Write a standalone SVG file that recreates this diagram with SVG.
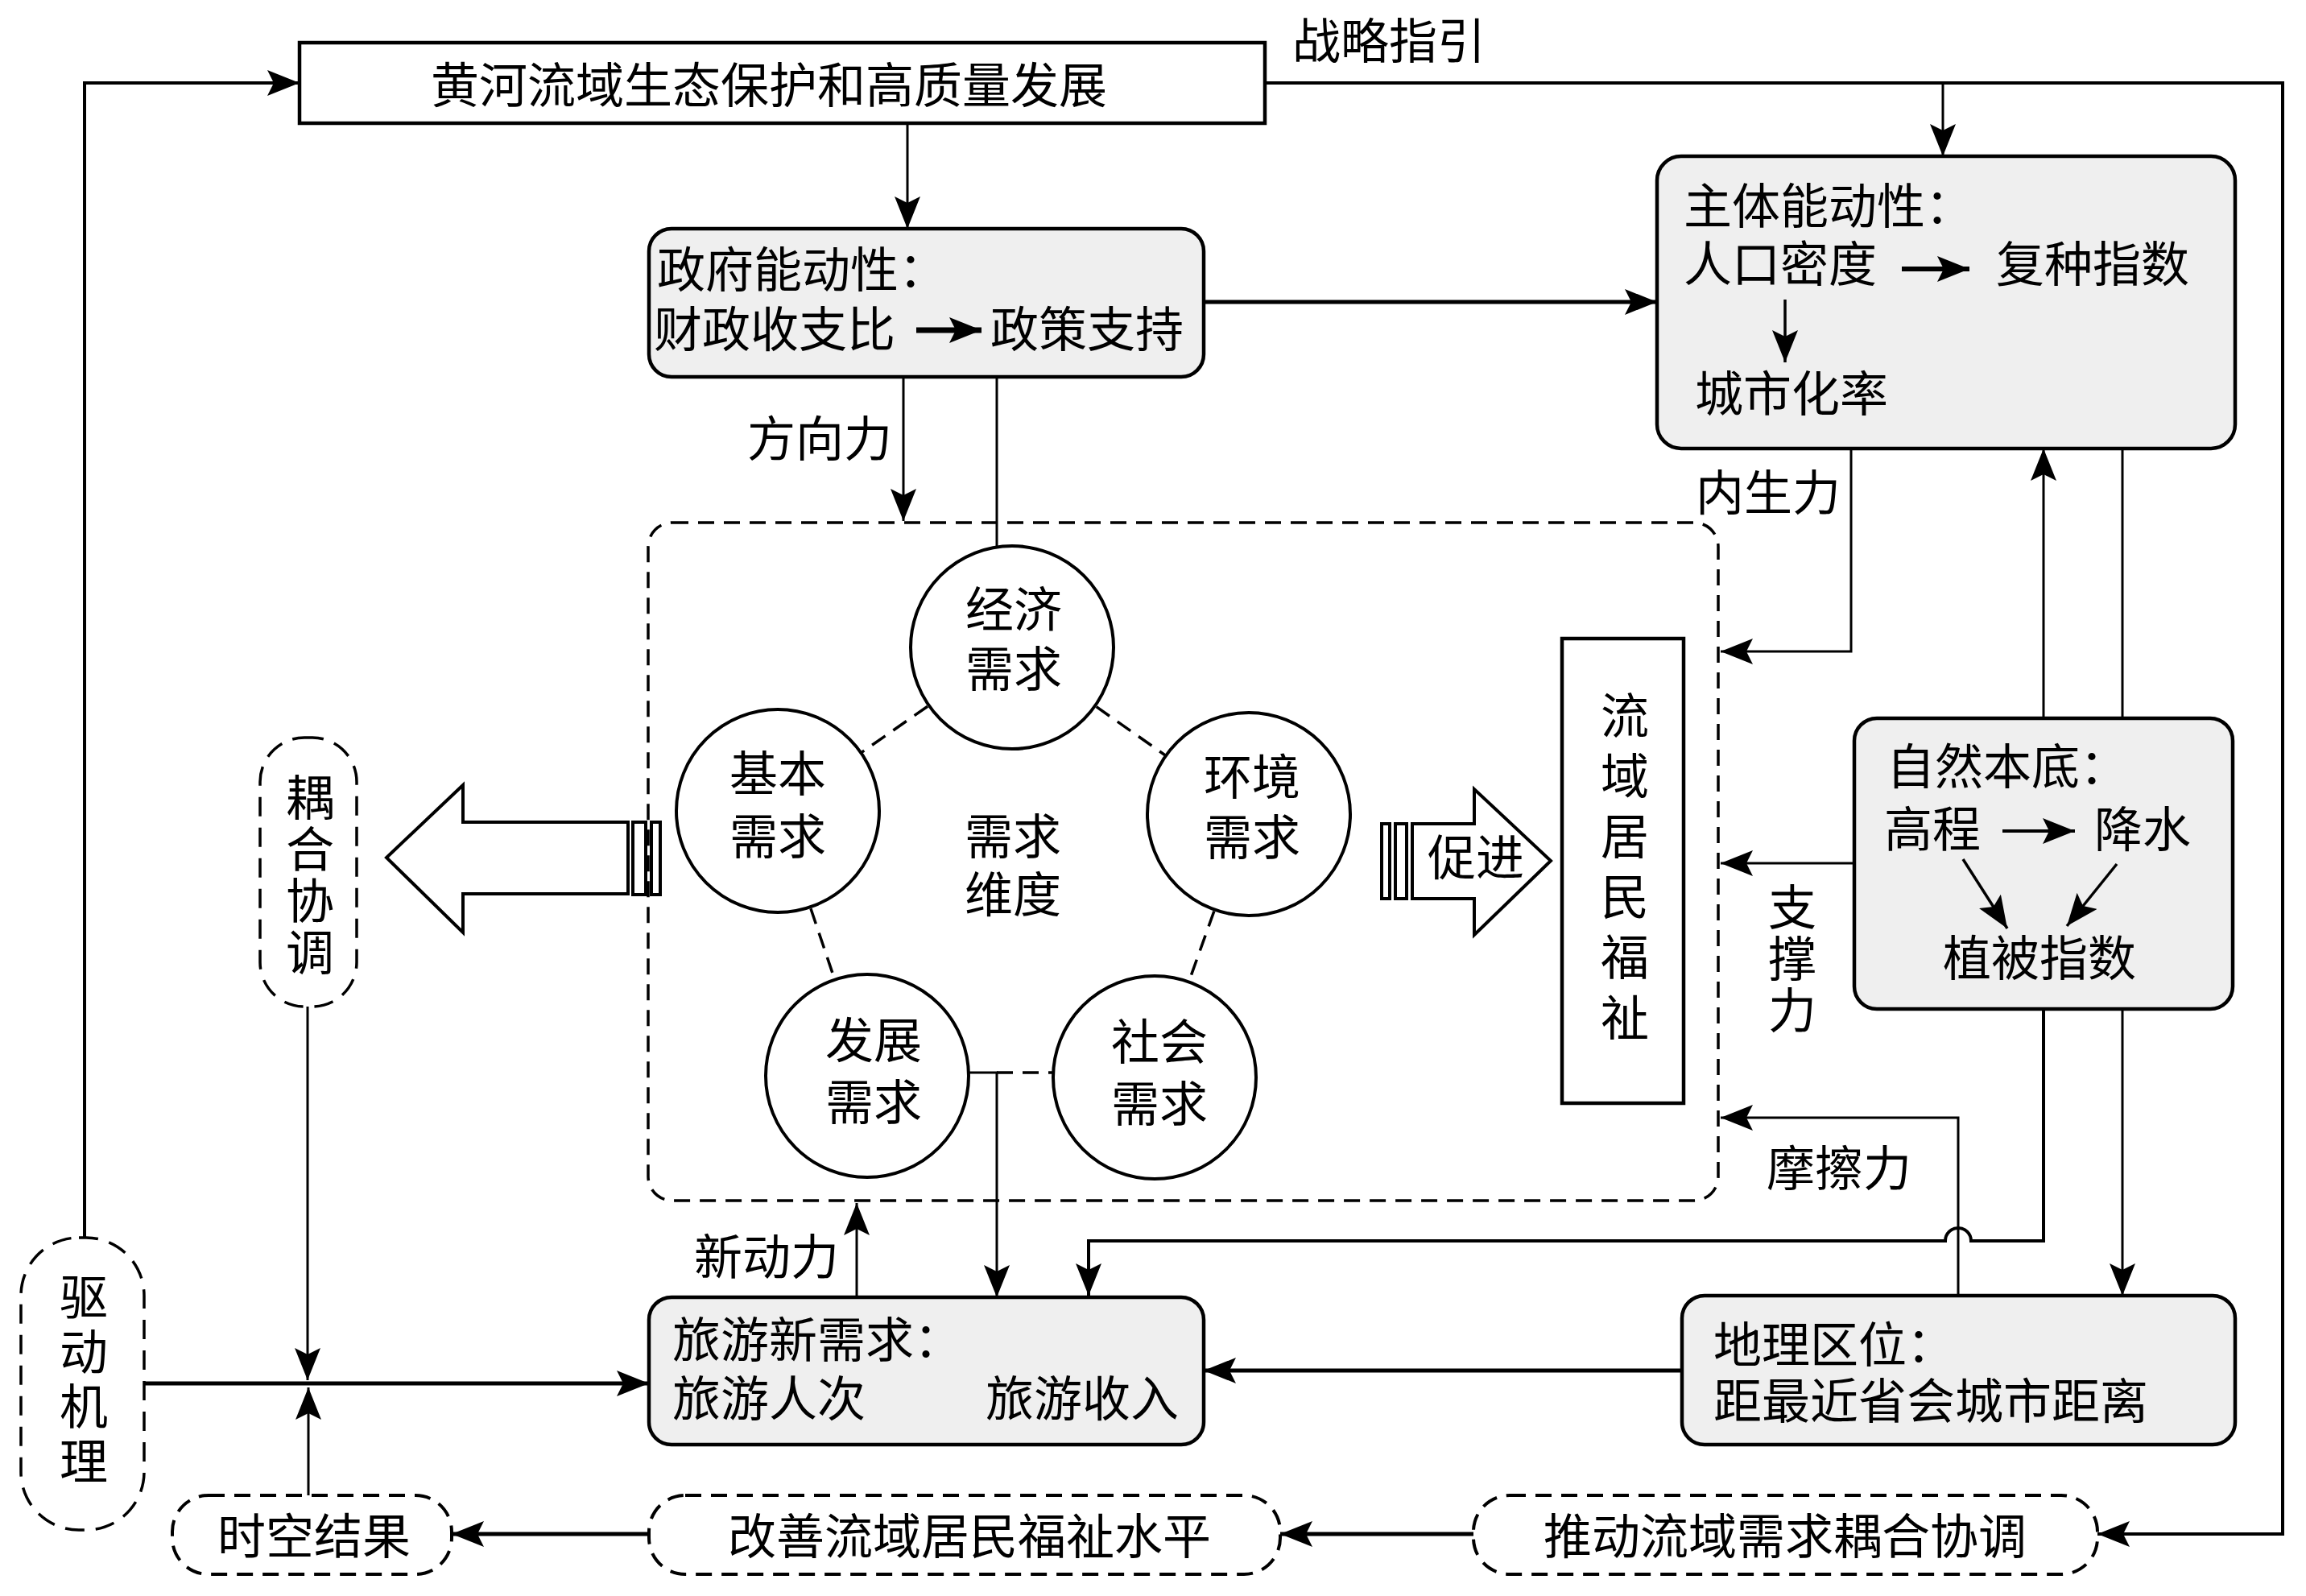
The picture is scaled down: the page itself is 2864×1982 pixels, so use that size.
<svg xmlns="http://www.w3.org/2000/svg" width="2864" height="1982" viewBox="0 0 2864 1982">
<style>
text{font-family:"Liberation Sans","Noto Sans CJK SC",sans-serif;font-size:60px;fill:#000;dominant-baseline:central}
.c{text-anchor:middle}
.s{text-anchor:start}
.v{writing-mode:vertical-rl;text-anchor:middle}
.ln{fill:none;stroke:#000;stroke-width:4}
.thin{fill:none;stroke:#000;stroke-width:3}
.thick{fill:none;stroke:#000;stroke-width:5}
.box{fill:#efefef;stroke:#000;stroke-width:4.5}
.wbox{fill:#fff;stroke:#000;stroke-width:4.5}
.dbox{fill:#fff;stroke:#000;stroke-width:4;stroke-dasharray:20 12}
.dpill{fill:#fff;stroke:#000;stroke-width:3.5;stroke-dasharray:24 14}
.circ{fill:#fff;stroke:#000;stroke-width:4}
.dl{fill:none;stroke:#000;stroke-width:3.5;stroke-dasharray:20 12}
.hollow{fill:#fff;stroke:#000;stroke-width:4}
</style>
<defs>
<marker id="ah" markerUnits="userSpaceOnUse" markerWidth="40" markerHeight="32" refX="40" refY="16" orient="auto">
<path d="M0,0 L40,16 L0,32 L8,16 Z" fill="#000"/>
</marker>
</defs>
<rect width="2864" height="1982" fill="#fff"/>

<g id="connectors">
<path class="ln" d="M105,1537 L105,103 L372,103" marker-end="url(#ah)"/>
<path class="ln" d="M1571,103 L2835,103 L2835,1905 L2605,1905" marker-end="url(#ah)"/>
<path class="thin" d="M2413,103 L2413,194" marker-end="url(#ah)"/>
<path class="thin" d="M1127,153 L1127,284" marker-end="url(#ah)"/>
<path class="thick" d="M1495,375 L2058,375" marker-end="url(#ah)"/>
<path class="thin" d="M1122,468 L1122,647" marker-end="url(#ah)"/>
<path class="thin" d="M1238,468 L1238,679"/>
<path class="thin" d="M2299,557 L2299,809 L2137,809" marker-end="url(#ah)"/>
<path class="thin" d="M2538,892 L2538,557" marker-end="url(#ah)"/>
<path class="thin" d="M2636,557 L2636,1609" marker-end="url(#ah)"/>
<path class="thin" d="M2303,1072 L2137,1072" marker-end="url(#ah)"/>
<path class="thin" d="M2432,1609 L2432,1388 L2137,1388" marker-end="url(#ah)"/>
<path class="ln" d="M2538,1253 L2538,1541 L2448,1541 A16,16 0 0 0 2416,1541 L1352,1541 L1352,1609" marker-end="url(#ah)"/>
<path class="thick" d="M2089,1702 L1495,1702" marker-end="url(#ah)"/>
<path class="thick" d="M179,1718 L806,1718" marker-end="url(#ah)"/>
<path class="thin" d="M382,1250 L382,1714" marker-end="url(#ah)"/>
<path class="thin" d="M383,1857 L383,1723" marker-end="url(#ah)"/>
<path class="thin" d="M1064,1611 L1064,1494" marker-end="url(#ah)"/>
<path class="thin" d="M1204,1332 L1238,1332 L1238,1611" marker-end="url(#ah)"/>
<path class="thick" d="M1830,1905 L1590,1905" marker-end="url(#ah)"/>
<path class="thick" d="M806,1905 L561,1905" marker-end="url(#ah)"/>
<text class="s" x="1605" y="52">战略指引</text>
<text class="s" x="928" y="546">方向力</text>
<text class="s" x="2106" y="613">内生力</text>
<text class="v" x="2220" y="1192" letter-spacing="4">支撑力</text>
<text class="s" x="2194" y="1452">摩擦力</text>
<text class="s" x="862" y="1562">新动力</text>
</g>

<g id="node-top">
<rect class="wbox" x="372" y="53" width="1199" height="100"/>
<text class="c" x="955" y="107">黄河流域生态保护和高质量发展</text>
</g>

<g id="node-gov">
<rect class="box" x="806" y="284" width="689" height="184" rx="28"/>
<path d="M1138,410 L1219,410" stroke="#000" stroke-width="7" marker-end="url(#ah)"/>
<text class="s" x="816" y="336">政府能动性：</text>
<text class="s" x="812" y="410">财政收支比</text>
<text class="s" x="1230" y="410">政策支持</text>
</g>

<g id="node-subject">
<rect class="box" x="2058" y="194" width="718" height="363" rx="30"/>
<path d="M2362,334 L2446,334" stroke="#000" stroke-width="6" marker-end="url(#ah)"/>
<path d="M2217,372 L2217,450" stroke="#000" stroke-width="3.5" marker-end="url(#ah)"/>
<text class="s" x="2091" y="257">主体能动性：</text>
<text class="s" x="2091" y="329">人口密度</text>
<text class="s" x="2479" y="329">复种指数</text>
<text class="s" x="2105" y="490">城市化率</text>
</g>

<g id="node-nature">
<rect class="box" x="2303" y="892" width="470" height="361" rx="28"/>
<path d="M2487,1032 L2577,1032" stroke="#000" stroke-width="4" marker-end="url(#ah)"/>
<path d="M2438,1067 L2493,1153" stroke="#000" stroke-width="3.5" marker-end="url(#ah)"/>
<path d="M2629,1073 L2567,1150" stroke="#000" stroke-width="3.5" marker-end="url(#ah)"/>
<text class="s" x="2343" y="953">自然本底：</text>
<text class="s" x="2340" y="1031">高程</text>
<text class="s" x="2601" y="1031">降水</text>
<text class="c" x="2533" y="1191">植被指数</text>
</g>

<g id="node-geo">
<rect class="box" x="2089" y="1609" width="687" height="185" rx="28"/>
<text class="s" x="2128" y="1671">地理区位：</text>
<text class="s" x="2128" y="1741">距最近省会城市距离</text>
</g>

<g id="node-tourism">
<rect class="box" x="806" y="1611" width="689" height="183" rx="28"/>
<text class="s" x="835" y="1665">旅游新需求：</text>
<text class="s" x="835" y="1738">旅游人次</text>
<text class="s" x="1224" y="1738">旅游收入</text>
</g>

<g id="node-welfare">
<rect class="wbox" x="1940" y="793" width="151" height="577"/>
<text class="v" x="2012" y="1083" letter-spacing="15">流域居民福祉</text>
</g>

<g id="node-demand">
<rect x="805" y="649" width="1329" height="842" rx="30" fill="none" stroke="#000" stroke-width="3.5" stroke-dasharray="20 12"/>
<path class="dl" d="M1257,804 L966,1007"/>
<path class="dl" d="M1257,804 L1551,1011"/>
<path class="dl" d="M1551,1011 L1434,1338"/>
<path class="dl" d="M966,1007 L1077,1336"/>
<path class="dl" d="M1238,1332 L1310,1332"/>
<circle class="circ" cx="1257" cy="804" r="126"/>
<text class="c" x="1259" y="758">经济</text>
<text class="c" x="1259" y="832">需求</text>
<circle class="circ" cx="1551" cy="1011" r="126"/>
<text class="c" x="1555" y="966">环境</text>
<text class="c" x="1555" y="1041">需求</text>
<circle class="circ" cx="966" cy="1007" r="126"/>
<text class="c" x="966" y="962">基本</text>
<text class="c" x="966" y="1040">需求</text>
<circle class="circ" cx="1077" cy="1336" r="126"/>
<text class="c" x="1085" y="1293">发展</text>
<text class="c" x="1085" y="1370">需求</text>
<circle class="circ" cx="1434" cy="1338" r="126"/>
<text class="c" x="1440" y="1295">社会</text>
<text class="c" x="1440" y="1372">需求</text>
<text class="c" x="1258" y="1040">需求</text>
<text class="c" x="1258" y="1112">维度</text>
</g>

<g id="arrow-left">
<polygon class="hollow" points="780,1021 575,1021 575,975 480,1065 575,1158 575,1110 780,1110"/>
<rect class="hollow" x="786" y="1021" width="16" height="90"/>
<rect class="hollow" x="809" y="1021" width="11" height="90"/>
</g>

<g id="arrow-right">
<rect class="hollow" x="1716" y="1023" width="10" height="93"/>
<rect class="hollow" x="1733" y="1023" width="14" height="93"/>
<polygon class="hollow" points="1754,1023 1831,1023 1831,980 1926,1069 1831,1161 1831,1116 1754,1116"/>
<text class="c" x="1833" y="1066">促进</text>
</g>

<g id="node-coupling">
<rect class="dpill" x="323" y="916" width="120" height="334" rx="55"/>
<text class="v" x="379" y="1088" letter-spacing="4">耦合协调</text>
</g>

<g id="node-driving">
<rect class="dpill" x="26" y="1537" width="153" height="363" rx="72"/>
<text class="v" x="98" y="1716" letter-spacing="8">驱动机理</text>
</g>

<g id="node-spatiotemporal">
<rect class="dbox" x="214" y="1857" width="347" height="98" rx="45"/>
<text class="c" x="390" y="1909">时空结果</text>
</g>

<g id="node-improve">
<rect class="dbox" x="806" y="1857" width="784" height="98" rx="45"/>
<text class="c" x="1204" y="1909">改善流域居民福祉水平</text>
</g>

<g id="node-promote">
<rect class="dbox" x="1830" y="1857" width="775" height="98" rx="45"/>
<text class="c" x="2217" y="1909">推动流域需求耦合协调</text>
</g>
</svg>
